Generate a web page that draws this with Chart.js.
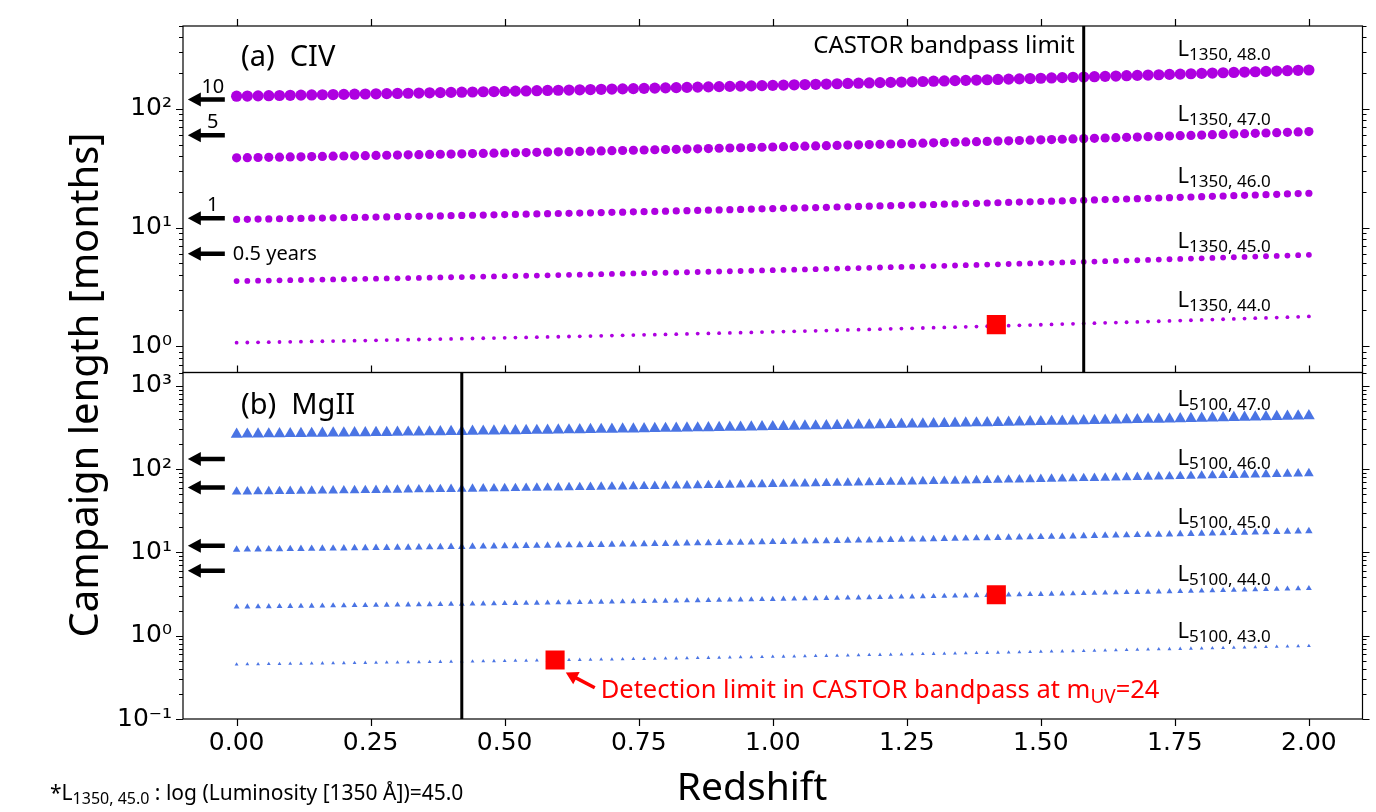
<!DOCTYPE html>
<html>
<head>
<meta charset="utf-8">
<script src="https://cdn.jsdelivr.net/npm/chart.js@4.4.1/dist/chart.umd.min.js"></script>
<style>
  html, body { margin: 0; padding: 0; background: #fff; }
  #wrap { width: 1376px; height: 812px; }
</style>
</head>
<body>
<div id="wrap"><canvas id="campaignChart" width="1376" height="812"></canvas></div>
<script>
// redshift grid shared by every series
const redshift = [
  0.00, 0.02, 0.04, 0.06, 0.08, 0.10, 0.12, 0.14, 0.16, 0.18,
  0.20, 0.22, 0.24, 0.26, 0.28, 0.30, 0.32, 0.34, 0.36, 0.38,
  0.40, 0.42, 0.44, 0.46, 0.48, 0.50, 0.52, 0.54, 0.56, 0.58,
  0.60, 0.62, 0.64, 0.66, 0.68, 0.70, 0.72, 0.74, 0.76, 0.78,
  0.80, 0.82, 0.84, 0.86, 0.88, 0.90, 0.92, 0.94, 0.96, 0.98,
  1.00, 1.02, 1.04, 1.06, 1.08, 1.10, 1.12, 1.14, 1.16, 1.18,
  1.20, 1.22, 1.24, 1.26, 1.28, 1.30, 1.32, 1.34, 1.36, 1.38,
  1.40, 1.42, 1.44, 1.46, 1.48, 1.50, 1.52, 1.54, 1.56, 1.58,
  1.60, 1.62, 1.64, 1.66, 1.68, 1.70, 1.72, 1.74, 1.76, 1.78,
  1.80, 1.82, 1.84, 1.86, 1.88, 1.90, 1.92, 1.94, 1.96, 1.98,
  2.00
];

// (a) CIV campaign length [months]
const civL48 = [
  128.0, 128.4, 128.9, 129.3, 129.8, 130.2, 130.7, 131.1, 131.6, 132.1,
  132.6, 133.1, 133.6, 134.1, 134.6, 135.1, 135.6, 136.1, 136.7, 137.2,
  137.8, 138.3, 138.9, 139.5, 140.1, 140.6, 141.2, 141.8, 142.5, 143.1,
  143.7, 144.3, 145.0, 145.6, 146.3, 147.0, 147.6, 148.3, 149.0, 149.7,
  150.4, 151.1, 151.8, 152.6, 153.3, 154.1, 154.8, 155.6, 156.4, 157.2,
  158.0, 158.8, 159.6, 160.4, 161.3, 162.1, 163.0, 163.9, 164.7, 165.6,
  166.5, 167.4, 168.4, 169.3, 170.2, 171.2, 172.2, 173.1, 174.1, 175.1,
  176.1, 177.2, 178.2, 179.3, 180.3, 181.4, 182.5, 183.6, 184.7, 185.8,
  187.0, 188.1, 189.3, 190.5, 191.7, 192.9, 194.1, 195.4, 196.6, 197.9,
  199.2, 200.5, 201.8, 203.1, 204.5, 205.8, 207.2, 208.6, 210.0, 211.5,
  212.9
];
const civL47 = [
  38.70, 38.83, 38.96, 39.09, 39.23, 39.37, 39.50, 39.65, 39.79, 39.93,
  40.08, 40.23, 40.38, 40.53, 40.69, 40.84, 41.00, 41.16, 41.32, 41.49,
  41.66, 41.83, 42.00, 42.17, 42.35, 42.52, 42.71, 42.89, 43.07, 43.26,
  43.45, 43.64, 43.83, 44.03, 44.23, 44.43, 44.63, 44.84, 45.05, 45.26,
  45.48, 45.69, 45.91, 46.13, 46.36, 46.59, 46.82, 47.05, 47.28, 47.52,
  47.76, 48.01, 48.26, 48.51, 48.76, 49.02, 49.28, 49.54, 49.81, 50.07,
  50.34, 50.62, 50.90, 51.18, 51.47, 51.76, 52.05, 52.35, 52.65, 52.95,
  53.26, 53.56, 53.88, 54.20, 54.52, 54.85, 55.17, 55.51, 55.84, 56.18,
  56.53, 56.88, 57.23, 57.59, 57.95, 58.32, 58.69, 59.07, 59.45, 59.83,
  60.22, 60.61, 61.01, 61.41, 61.82, 62.23, 62.65, 63.07, 63.50, 63.94,
  64.37
];
const civL46 = [
  11.70, 11.74, 11.78, 11.82, 11.86, 11.90, 11.94, 11.99, 12.03, 12.07,
  12.12, 12.16, 12.21, 12.25, 12.30, 12.35, 12.40, 12.44, 12.49, 12.54,
  12.59, 12.65, 12.70, 12.75, 12.80, 12.86, 12.91, 12.97, 13.02, 13.08,
  13.14, 13.19, 13.25, 13.31, 13.37, 13.43, 13.49, 13.56, 13.62, 13.68,
  13.75, 13.81, 13.88, 13.95, 14.02, 14.08, 14.15, 14.22, 14.30, 14.37,
  14.44, 14.52, 14.59, 14.66, 14.74, 14.82, 14.90, 14.98, 15.06, 15.14,
  15.22, 15.30, 15.39, 15.47, 15.56, 15.65, 15.74, 15.83, 15.92, 16.01,
  16.10, 16.19, 16.29, 16.39, 16.48, 16.58, 16.68, 16.78, 16.88, 16.99,
  17.09, 17.20, 17.30, 17.41, 17.52, 17.63, 17.74, 17.86, 17.97, 18.09,
  18.21, 18.32, 18.45, 18.57, 18.69, 18.81, 18.94, 19.07, 19.20, 19.33,
  19.46
];
const civL45 = [
  3.540, 3.552, 3.564, 3.576, 3.588, 3.601, 3.614, 3.627, 3.640, 3.653,
  3.666, 3.680, 3.694, 3.707, 3.722, 3.736, 3.751, 3.765, 3.780, 3.795,
  3.810, 3.826, 3.842, 3.858, 3.873, 3.890, 3.906, 3.923, 3.940, 3.957,
  3.974, 3.992, 4.009, 4.027, 4.046, 4.064, 4.083, 4.102, 4.121, 4.140,
  4.160, 4.180, 4.200, 4.220, 4.241, 4.261, 4.282, 4.304, 4.325, 4.347,
  4.369, 4.392, 4.414, 4.437, 4.460, 4.484, 4.507, 4.532, 4.556, 4.580,
  4.605, 4.631, 4.656, 4.682, 4.708, 4.734, 4.761, 4.788, 4.816, 4.843,
  4.871, 4.900, 4.929, 4.958, 4.987, 5.017, 5.047, 5.077, 5.108, 5.139,
  5.171, 5.203, 5.235, 5.268, 5.301, 5.335, 5.369, 5.403, 5.438, 5.473,
  5.508, 5.544, 5.581, 5.618, 5.655, 5.693, 5.731, 5.769, 5.809, 5.848,
  5.888
];
const civL44 = [
  1.070, 1.074, 1.077, 1.081, 1.085, 1.088, 1.092, 1.096, 1.100, 1.104,
  1.108, 1.112, 1.116, 1.121, 1.125, 1.129, 1.134, 1.138, 1.143, 1.147,
  1.152, 1.156, 1.161, 1.166, 1.171, 1.176, 1.181, 1.186, 1.191, 1.196,
  1.201, 1.207, 1.212, 1.217, 1.223, 1.228, 1.234, 1.240, 1.246, 1.251,
  1.257, 1.263, 1.269, 1.276, 1.282, 1.288, 1.294, 1.301, 1.307, 1.314,
  1.321, 1.327, 1.334, 1.341, 1.348, 1.355, 1.362, 1.370, 1.377, 1.384,
  1.392, 1.400, 1.407, 1.415, 1.423, 1.431, 1.439, 1.447, 1.456, 1.464,
  1.472, 1.481, 1.490, 1.499, 1.507, 1.516, 1.525, 1.535, 1.544, 1.553,
  1.563, 1.573, 1.582, 1.592, 1.602, 1.612, 1.623, 1.633, 1.644, 1.654,
  1.665, 1.676, 1.687, 1.698, 1.709, 1.721, 1.732, 1.744, 1.756, 1.768,
  1.780
];

// (b) MgII campaign length [months]
const mgL47 = [
  261.0, 261.9, 262.8, 263.7, 264.6, 265.5, 266.4, 267.4, 268.4, 269.3,
  270.3, 271.3, 272.3, 273.3, 274.4, 275.5, 276.5, 277.6, 278.7, 279.8,
  280.9, 282.1, 283.2, 284.4, 285.6, 286.8, 288.0, 289.2, 290.5, 291.7,
  293.0, 294.3, 295.6, 296.9, 298.3, 299.7, 301.0, 302.4, 303.8, 305.2,
  306.7, 308.2, 309.6, 311.1, 312.7, 314.2, 315.7, 317.3, 318.9, 320.5,
  322.1, 323.8, 325.5, 327.1, 328.9, 330.6, 332.3, 334.1, 335.9, 337.7,
  339.5, 341.4, 343.3, 345.2, 347.1, 349.1, 351.0, 353.0, 355.1, 357.1,
  359.2, 361.2, 363.4, 365.5, 367.7, 369.9, 372.1, 374.4, 376.6, 378.9,
  381.3, 383.6, 386.0, 388.4, 390.8, 393.3, 395.8, 398.4, 400.9, 403.5,
  406.1, 408.8, 411.5, 414.2, 416.9, 419.7, 422.5, 425.4, 428.3, 431.2,
  434.1
];
const mgL46 = [
  53.30, 53.48, 53.66, 53.84, 54.03, 54.22, 54.41, 54.61, 54.80, 55.00,
  55.20, 55.41, 55.61, 55.82, 56.03, 56.25, 56.47, 56.69, 56.91, 57.14,
  57.37, 57.61, 57.84, 58.08, 58.32, 58.57, 58.82, 59.07, 59.32, 59.58,
  59.84, 60.10, 60.37, 60.64, 60.92, 61.19, 61.47, 61.76, 62.05, 62.33,
  62.63, 62.93, 63.23, 63.54, 63.85, 64.16, 64.48, 64.80, 65.12, 65.45,
  65.78, 66.12, 66.47, 66.81, 67.16, 67.51, 67.87, 68.23, 68.60, 68.96,
  69.34, 69.72, 70.11, 70.49, 70.89, 71.28, 71.69, 72.09, 72.51, 72.93,
  73.35, 73.77, 74.21, 74.65, 75.09, 75.54, 75.99, 76.45, 76.91, 77.38,
  77.86, 78.34, 78.83, 79.32, 79.82, 80.32, 80.83, 81.35, 81.87, 82.40,
  82.93, 83.48, 84.03, 84.58, 85.15, 85.71, 86.29, 86.87, 87.46, 88.06,
  88.66
];
const mgL45 = [
  10.80, 10.84, 10.87, 10.91, 10.95, 10.99, 11.02, 11.06, 11.10, 11.14,
  11.19, 11.23, 11.27, 11.31, 11.35, 11.40, 11.44, 11.49, 11.53, 11.58,
  11.63, 11.67, 11.72, 11.77, 11.82, 11.87, 11.92, 11.97, 12.02, 12.07,
  12.13, 12.18, 12.23, 12.29, 12.34, 12.40, 12.46, 12.51, 12.57, 12.63,
  12.69, 12.75, 12.81, 12.87, 12.94, 13.00, 13.06, 13.13, 13.20, 13.26,
  13.33, 13.40, 13.47, 13.54, 13.61, 13.68, 13.75, 13.83, 13.90, 13.97,
  14.05, 14.13, 14.21, 14.28, 14.36, 14.44, 14.53, 14.61, 14.69, 14.78,
  14.86, 14.95, 15.04, 15.13, 15.22, 15.31, 15.40, 15.49, 15.58, 15.68,
  15.78, 15.87, 15.97, 16.07, 16.17, 16.28, 16.38, 16.48, 16.59, 16.70,
  16.80, 16.91, 17.03, 17.14, 17.25, 17.37, 17.48, 17.60, 17.72, 17.84,
  17.96
];
const mgL44 = [
  2.220, 2.227, 2.235, 2.243, 2.250, 2.258, 2.266, 2.274, 2.283, 2.291,
  2.299, 2.308, 2.316, 2.325, 2.334, 2.343, 2.352, 2.361, 2.371, 2.380,
  2.390, 2.399, 2.409, 2.419, 2.429, 2.439, 2.450, 2.460, 2.471, 2.482,
  2.492, 2.503, 2.514, 2.526, 2.537, 2.549, 2.560, 2.572, 2.584, 2.596,
  2.609, 2.621, 2.634, 2.646, 2.659, 2.672, 2.686, 2.699, 2.712, 2.726,
  2.740, 2.754, 2.768, 2.783, 2.797, 2.812, 2.827, 2.842, 2.857, 2.872,
  2.888, 2.904, 2.920, 2.936, 2.953, 2.969, 2.986, 3.003, 3.020, 3.037,
  3.055, 3.073, 3.091, 3.109, 3.128, 3.146, 3.165, 3.184, 3.203, 3.223,
  3.243, 3.263, 3.283, 3.304, 3.324, 3.346, 3.367, 3.388, 3.410, 3.432,
  3.454, 3.477, 3.500, 3.523, 3.546, 3.570, 3.594, 3.618, 3.643, 3.668,
  3.693
];
const mgL43 = [
  0.4530, 0.4545, 0.4561, 0.4576, 0.4592, 0.4608, 0.4624, 0.4641, 0.4658, 0.4675,
  0.4692, 0.4709, 0.4727, 0.4744, 0.4762, 0.4781, 0.4800, 0.4818, 0.4837, 0.4857,
  0.4876, 0.4896, 0.4916, 0.4936, 0.4957, 0.4978, 0.4999, 0.5020, 0.5042, 0.5064,
  0.5086, 0.5108, 0.5131, 0.5154, 0.5177, 0.5201, 0.5224, 0.5249, 0.5273, 0.5298,
  0.5323, 0.5349, 0.5374, 0.5400, 0.5426, 0.5453, 0.5480, 0.5507, 0.5535, 0.5563,
  0.5591, 0.5620, 0.5649, 0.5678, 0.5708, 0.5738, 0.5768, 0.5799, 0.5830, 0.5861,
  0.5893, 0.5926, 0.5958, 0.5991, 0.6025, 0.6058, 0.6093, 0.6127, 0.6163, 0.6198,
  0.6234, 0.6270, 0.6307, 0.6344, 0.6382, 0.6420, 0.6458, 0.6497, 0.6537, 0.6577,
  0.6617, 0.6658, 0.6699, 0.6742, 0.6784, 0.6827, 0.6870, 0.6914, 0.6959, 0.7003,
  0.7049, 0.7095, 0.7142, 0.7189, 0.7237, 0.7285, 0.7334, 0.7383, 0.7433, 0.7484,
  0.7535
];

// series labels (log L) and where their text sits
const civLum = ['48.0', '47.0', '46.0', '45.0', '44.0'];
const civLabelY = [277, 78.8, 23.9, 6.70, 2.13];
const mgLum = ['47.0', '46.0', '45.0', '44.0', '43.0'];
const mgLabelY = [565, 112, 21.6, 4.50, 0.931];
const labelZ = 1.755;

// CASTOR bandpass limits (redshift)
const civLimitZ = [1.58];
const mgLimitZ = [0.42];

// detection limits at m_UV = 24
const civDetZ = [1.417];
const civDetY = [1.52];
const mgDetZ = [1.417, 0.594];
const mgDetY = [3.10, 0.51];

// year markers on the left (months)
const yearArrowTop = [120, 60, 12, 6];
const yearArrowBot = [132, 60, 12, 6];
const yearText = ['10', '5', '1', '0.5 years'];
const arrowZ = [-0.022, -0.091];

// red arrow + note
const noteArrowZ = [0.668, 0.614];
const noteArrowY = [0.2375, 0.361];
const noteZ = 0.679;
const noteY = 0.179;

// axes
const xTicks = [0, 0.25, 0.5, 0.75, 1.0, 1.25, 1.5, 1.75, 2.0];
const xRange = [-0.1, 2.1];
const topRange = [0.6, 500];
const botRange = [0.1, 1440];
const topDecades = [1, 10, 100];
const botDecades = [0.1, 1, 10, 100, 1000];

const FONT = '"Noto Sans", "DejaVu Sans", sans-serif';
const TICK_FONT = '"DejaVu Sans", "Noto Sans", sans-serif';
const PURPLE = '#ae00e0';
const BLUE = '#4a74e4';

const SUP = { '-': '\u207B', '0': '\u2070', '1': '\u00B9', '2': '\u00B2', '3': '\u00B3' };
function powLabel(v) {
    const e = Math.round(Math.log10(v));
    return '10' + String(e).split('').map(c => SUP[c]).join('');
}

function series(vals, axis, style, radius, color) {
    return {
        type: 'scatter',
        data: redshift.map((z, i) => ({ x: z, y: vals[i] })),
        yAxisID: axis,
        pointStyle: style,
        pointRadius: radius,
        backgroundColor: color,
        borderColor: color,
        borderWidth: 0,
        showLine: false,
        order: 2
    };
}

function limitLine(z, axis, range) {
    return {
        type: 'line',
        data: [{ x: z, y: range[0] }, { x: z, y: range[1] }],
        yAxisID: axis,
        borderColor: '#000',
        borderWidth: 3,
        pointRadius: 0,
        order: 1
    };
}

function squares(zs, ys, axis) {
    return {
        type: 'scatter',
        data: zs.map((z, i) => ({ x: z, y: ys[i] })),
        yAxisID: axis,
        pointStyle: 'rect',
        pointRadius: 13.5,
        backgroundColor: '#ff0000',
        borderWidth: 0,
        order: 0
    };
}

// text with sub/superscript parts
function richText(ctx, x, y, parts, align) {
    let w = 0;
    parts.forEach(p => {
        ctx.font = p.size + 'px ' + FONT;
        p.w = ctx.measureText(p.t).width;
        w += p.w;
    });
    let cx = align === 'right' ? x - w : x;
    parts.forEach(p => {
        ctx.font = p.size + 'px ' + FONT;
        ctx.fillText(p.t, cx, y + (p.dy || 0));
        cx += p.w;
    });
}

function drawArrow(ctx, x0, y0, x1, y1, shaft, headL, headW, color) {
    const ang = Math.atan2(y1 - y0, x1 - x0);
    const len = Math.hypot(x1 - x0, y1 - y0);
    ctx.save();
    ctx.translate(x0, y0);
    ctx.rotate(ang);
    ctx.fillStyle = color;
    ctx.beginPath();
    ctx.moveTo(0, -shaft / 2);
    ctx.lineTo(len - headL, -shaft / 2);
    ctx.lineTo(len - headL, -headW);
    ctx.lineTo(len, 0);
    ctx.lineTo(len - headL, headW);
    ctx.lineTo(len - headL, shaft / 2);
    ctx.lineTo(0, shaft / 2);
    ctx.closePath();
    ctx.fill();
    ctx.restore();
}

const panelDecor = {
    id: 'panelDecor',
    beforeDraw(chart) {
        const ctx = chart.ctx;
        ctx.save();
        ctx.fillStyle = '#fff';
        ctx.fillRect(0, 0, chart.width, chart.height);
        ctx.restore();
    },
    afterDraw(chart) {
        const ctx = chart.ctx;
        const xs = chart.scales.x;
        const left = chart.chartArea.left, right = chart.chartArea.right;
        ctx.save();
        ctx.strokeStyle = '#000';
        ctx.fillStyle = '#000';
        ctx.lineWidth = 1.2;

        ['yTop', 'yBot'].forEach(id => {
            const ys = chart.scales[id];
            ctx.strokeRect(left, ys.top, right - left, ys.bottom - ys.top);
            // log ticks, left and right, outward
            const lo = Math.floor(Math.log10(ys.min)), hi = Math.ceil(Math.log10(ys.max));
            ctx.beginPath();
            for (let d = lo; d <= hi; d++) {
                for (let k = 1; k <= 9; k++) {
                    const v = k * Math.pow(10, d);
                    if (v < ys.min * 0.999 || v > ys.max * 1.001) continue;
                    const py = Math.round(ys.getPixelForValue(v)) + 0.5;
                    const len = k === 1 ? 7 : 4;
                    ctx.moveTo(left, py); ctx.lineTo(left - len, py);
                    ctx.moveTo(right, py); ctx.lineTo(right + len, py);
                }
            }
            // x ticks on the top edge of each panel, outward
            xTicks.forEach(v => {
                const px = Math.round(xs.getPixelForValue(v)) + 0.5;
                ctx.moveTo(px, ys.top); ctx.lineTo(px, ys.top - 7);
            });
            if (id === 'yBot') {
                xTicks.forEach(v => {
                    const px = Math.round(xs.getPixelForValue(v)) + 0.5;
                    ctx.moveTo(px, ys.bottom); ctx.lineTo(px, ys.bottom + 7);
                });
            }
            ctx.stroke();
        });

        const yt = chart.scales.yTop, yb = chart.scales.yBot;
        ctx.textBaseline = 'alphabetic';
        ctx.textAlign = 'left';

        // panel titles
        ctx.font = '29px ' + FONT;
        ctx.fillText('(a)  CIV', left + 58, yt.top + 40);
        ctx.fillText('(b)  MgII', left + 58, yb.top + 41);

        // CASTOR limit text
        ctx.font = '24px ' + FONT;
        ctx.textAlign = 'right';
        ctx.fillText('CASTOR bandpass limit', xs.getPixelForValue(civLimitZ[0]) - 9, yt.top + 27);
        ctx.textAlign = 'left';

        // series labels
        const lx = xs.getPixelForValue(labelZ);
        civLum.forEach((l, i) => {
            richText(ctx, lx, yt.getPixelForValue(civLabelY[i]),
                [{ t: 'L', size: 22 }, { t: '1350, ' + l, size: 17, dy: 4 }]);
        });
        mgLum.forEach((l, i) => {
            richText(ctx, lx, yb.getPixelForValue(mgLabelY[i]),
                [{ t: 'L', size: 22 }, { t: '5100, ' + l, size: 17, dy: 4 }]);
        });

        // year arrows
        const ax0 = xs.getPixelForValue(arrowZ[0]), ax1 = xs.getPixelForValue(arrowZ[1]);
        yearArrowTop.forEach((m, i) => {
            const py = yt.getPixelForValue(m);
            drawArrow(ctx, ax0, py, ax1, py, 4.5, 13, 7, '#000');
            ctx.font = '20px ' + FONT;
            ctx.fillStyle = '#000';
            if (i < 3) {
                ctx.textAlign = 'center';
                ctx.fillText(yearText[i], ax0 - 12, py - 7);
            } else {
                ctx.textAlign = 'left';
                ctx.textBaseline = 'middle';
                ctx.fillText(yearText[i], ax0 + 8, py);
                ctx.textBaseline = 'alphabetic';
            }
        });
        yearArrowBot.forEach(m => {
            const py = yb.getPixelForValue(m);
            drawArrow(ctx, ax0, py, ax1, py, 4.5, 13, 7, '#000');
        });

        // detection limit note
        drawArrow(ctx, xs.getPixelForValue(noteArrowZ[0]), yb.getPixelForValue(noteArrowY[0]),
            xs.getPixelForValue(noteArrowZ[1]), yb.getPixelForValue(noteArrowY[1]), 3.5, 12, 7, '#ff0000');
        ctx.fillStyle = '#ff0000';
        ctx.textAlign = 'left';
        richText(ctx, xs.getPixelForValue(noteZ), yb.getPixelForValue(noteY), [
            { t: 'Detection limit in CASTOR bandpass at m', size: 25.5 },
            { t: 'UV', size: 19, dy: 5 },
            { t: '=24', size: 25.5 }
        ]);

        // axis titles
        ctx.fillStyle = '#000';
        ctx.font = '39px ' + FONT;
        ctx.textAlign = 'center';
        ctx.fillText('Redshift', 752, 800);
        ctx.font = '40px ' + FONT;
        ctx.save();
        ctx.translate(98, 385);
        ctx.rotate(-Math.PI / 2);
        ctx.fillText('Campaign length [months]', 0, 0);
        ctx.restore();

        // footnote
        ctx.textAlign = 'left';
        richText(ctx, 50, 800, [
            { t: '*L', size: 21 },
            { t: '1350, 45.0', size: 16, dy: 4 },
            { t: ' : log (Luminosity [1350 \u00C5])=45.0', size: 21 }
        ]);
        ctx.restore();
    }
};

const logAxis = (range, decades) => ({
    type: 'logarithmic',
    min: range[0],
    max: range[1],
    position: 'left',
    stack: 'panels',
    stackWeight: 1,
    grid: { display: false, drawTicks: false },
    border: { display: false },
    afterBuildTicks: s => { s.ticks = decades.map(v => ({ value: v })); },
    afterFit: s => { s.width = 183; },
    ticks: {
        autoSkip: false,
        padding: 11,
        color: '#000',
        font: { family: TICK_FONT, size: 25 },
        callback: v => powLabel(v)
    }
});

new Chart(document.getElementById('campaignChart'), {
    type: 'scatter',
    data: {
        datasets: [
            series(civL48, 'yTop', 'circle', 5.6, PURPLE),
            series(civL47, 'yTop', 'circle', 4.6, PURPLE),
            series(civL46, 'yTop', 'circle', 3.6, PURPLE),
            series(civL45, 'yTop', 'circle', 2.9, PURPLE),
            series(civL44, 'yTop', 'circle', 1.9, PURPLE),
            series(mgL47, 'yBot', 'triangle', 6.8, BLUE),
            series(mgL46, 'yBot', 'triangle', 5.6, BLUE),
            series(mgL45, 'yBot', 'triangle', 4.3, BLUE),
            series(mgL44, 'yBot', 'triangle', 3.4, BLUE),
            series(mgL43, 'yBot', 'triangle', 2.2, BLUE),
            limitLine(civLimitZ[0], 'yTop', topRange),
            limitLine(mgLimitZ[0], 'yBot', botRange),
            squares(civDetZ, civDetY, 'yTop'),
            squares(mgDetZ, mgDetY, 'yBot')
        ]
    },
    options: {
        responsive: false,
        animation: false,
        devicePixelRatio: 1,
        events: [],
        layout: { padding: { top: 23, right: 12, left: 0, bottom: 0 } },
        plugins: { legend: { display: false }, tooltip: { enabled: false } },
        scales: {
            x: {
                type: 'linear',
                min: xRange[0],
                max: xRange[1],
                grid: { display: false, drawTicks: false },
                border: { display: false },
                afterBuildTicks: s => { s.ticks = xTicks.map(v => ({ value: v })); },
                afterFit: s => { s.height = 93; },
                ticks: {
                    autoSkip: false,
                    maxRotation: 0,
                    padding: 9,
                    color: '#000',
                    font: { family: TICK_FONT, size: 25 },
                    callback: v => Number(v).toFixed(2)
                }
            },
            yBot: logAxis(botRange, botDecades),
            yTop: logAxis(topRange, topDecades)
        }
    },
    plugins: [panelDecor]
});
</script>
</body>
</html>
